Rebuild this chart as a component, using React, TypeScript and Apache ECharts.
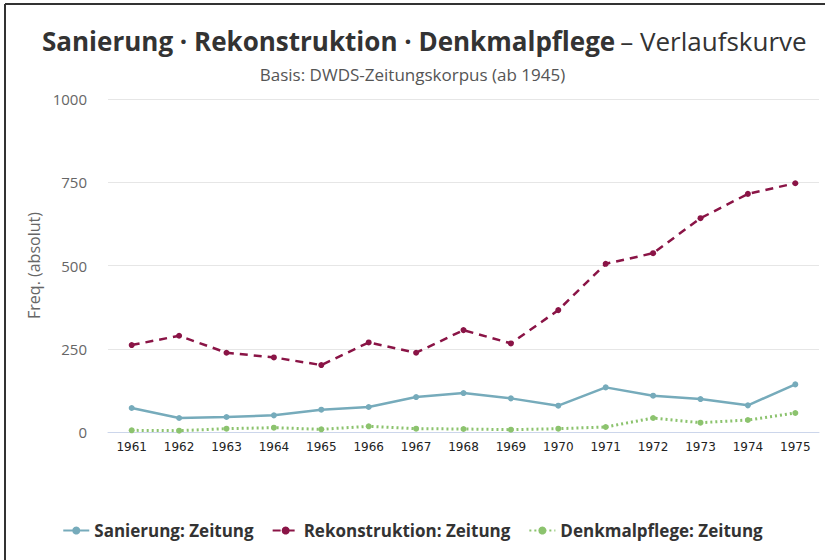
import React, { useEffect, useRef } from "react";
import * as echarts from "echarts";

const years = ["1961","1962","1963","1964","1965","1966","1967","1968","1969","1970","1971","1972","1973","1974","1975"];
const sanierung = [72, 42, 45, 50, 67, 75, 105, 117, 101, 79, 134, 109, 99, 80, 143];
const rekonstruktion = [261, 289, 238, 224, 201, 269, 238, 306, 266, 366, 505, 537, 642, 715, 747];
const denkmalpflege = [5, 4, 10, 13, 8, 17, 10, 9, 7, 10, 15, 42, 28, 36, 57];
const seriesNames = ["Sanierung: Zeitung", "Rekonstruktion: Zeitung", "Denkmalpflege: Zeitung"];
const yTicks = [0, 250, 500, 750, 1000];

export default function App() {
  const ref = useRef<HTMLDivElement>(null);
  useEffect(() => {
    document.body.style.margin = "0";
    const chart = echarts.init(ref.current!, null, { renderer: "svg" });
    const font = "'Open Sans', sans-serif";
    chart.setOption({
      animation: false,
      backgroundColor: "#ffffff",
      title: [
        {
          left: 37,
          top: 23,
          text: "{b|Sanierung · Rekonstruktion · Denkmalpflege} {n|– Verlaufskurve}",
          textStyle: {
            rich: {
              b: { fontFamily: font, fontWeight: "bold", fontSize: 26, color: "#333333" },
              n: { fontFamily: font, fontWeight: "normal", fontSize: 26, color: "#333333" },
            },
          },
        },
        {
          left: "center",
          top: 61,
          text: "Basis: DWDS-Zeitungskorpus (ab 1945)",
          textStyle: { fontFamily: font, fontWeight: "normal", fontSize: 17, color: "#555555" },
        },
      ],
      graphic: [
        { type: "line", shape: { x1: 5, y1: 4, x2: 825, y2: 4 }, style: { stroke: "#333333", lineWidth: 2 } },
        { type: "line", shape: { x1: 5, y1: 4, x2: 5, y2: 560 }, style: { stroke: "#333333", lineWidth: 2 } },
      ],
      legend: {
        bottom: 16,
        left: "center",
        itemWidth: 26,
        itemHeight: 10,
        itemGap: 18,
        data: seriesNames,
        textStyle: { fontFamily: font, fontWeight: "bold", fontSize: 17, color: "#333333" },
      },
      grid: { left: 108, right: 6, top: 99, bottom: 128, containLabel: false },
      xAxis: {
        type: "category",
        data: years,
        boundaryGap: true,
        axisLine: { lineStyle: { color: "#ccd6eb" } },
        axisTick: { show: false },
        axisLabel: { fontFamily: "'DejaVu Sans', sans-serif", fontSize: 12, color: "#222222", margin: 9 },
      },
      yAxis: {
        type: "value",
        min: yTicks[0],
        max: yTicks[yTicks.length - 1],
        interval: 250,
        name: "Freq. (absolut)",
        nameLocation: "middle",
        nameGap: 58,
        nameTextStyle: { fontFamily: font, fontSize: 16, color: "#666666" },
        axisLine: { show: false },
        axisTick: { show: false },
        axisLabel: { fontFamily: font, fontSize: 15, color: "#666666", margin: 21, formatter: (v: number) => String(v) },
        splitLine: { lineStyle: { color: "#e6e6e6" } },
      },
      series: [
        {
          name: seriesNames[0],
          type: "line",
          data: sanierung,
          symbol: "circle",
          symbolSize: 6,
          color: "#76abbb",
          lineStyle: { width: 2.5, type: "solid" },
        },
        {
          name: seriesNames[1],
          type: "line",
          data: rekonstruktion,
          symbol: "circle",
          symbolSize: 6,
          color: "#8a1446",
          lineStyle: { width: 2.5, type: [8, 6] },
        },
        {
          name: seriesNames[2],
          type: "line",
          data: denkmalpflege,
          symbol: "circle",
          symbolSize: 6,
          color: "#8cc36e",
          lineStyle: { width: 3, type: [2, 3] },
        },
      ],
    });
    return () => chart.dispose();
  }, []);
  return <div ref={ref} style={{ width: 825, height: 560 }} />;
}
